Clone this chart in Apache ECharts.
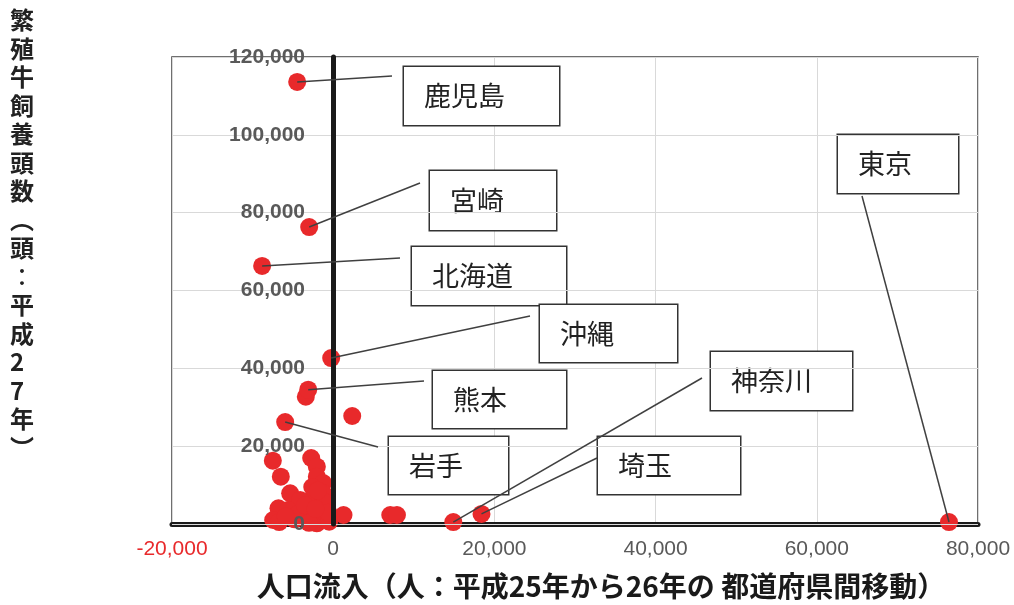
<!DOCTYPE html>
<html><head><meta charset="utf-8">
<script src="https://cdn.jsdelivr.net/npm/echarts@6/dist/echarts.min.js"></script>
<style>html,body{margin:0;padding:0;background:#fff}#c{width:1014px;height:605px}</style>
</head><body><div id="c"></div>
<script>
// ---- data ----
const labeledNames = ['鹿児島','宮崎','北海道','沖縄','熊本','岩手','神奈川','埼玉','東京'];
const labeledX = [-4470, -2980, -8820, -250, -3100, -5960, 14900, 18400, 76400];
const labeledY = [113600, 76300, 66300, 42650, 34500, 26200, 500, 2600, 500];

const otherX = [2360, -3400, -7490, -6500, -2730, -2030, -2030, -1240, -5340, -1240,
  -2480, -4100, -6790, -5590, -830, -7450, -3730, -2860, -1610, -620,
  -2030, 1280, 7080, 7910, -6700, -4800, -3200, -1500, -500, -1000,
  -2600, -4400, -3000, -600, -1900, -3500, -5900, -2200];
const otherY = [27750, 32700, 16260, 12150, 16960, 14720, 12150, 10530, 7890, 7890,
  6170, 6170, 4030, 3600, 4450, 1030, 1880, 1880, 1030, 1880,
  180, 2310, 2310, 2310, 500, 1200, 3000, 3500, 600, 5600,
  9500, 2500, 300, 2900, 8600, 4800, 1900, 3900];

const xAxisTitle = '人口流入（人：平成25年から26年の 都道府県間移動）';
const yAxisTitle = '繁殖牛飼養頭数︵頭︰平成27年︶';

// callout box layout in pixels: left, top, width, height, leader end x, leader end y
const calloutLayout = [
  [404, 67, 155, 58, 392, 76],
  [430, 171, 126, 59, 420, 183],
  [412, 247, 154, 58, 400, 258],
  [540, 305, 137, 57, 530, 316],
  [433, 371, 133, 57, 424, 381],
  [389, 437, 119, 57, 378, 447],
  [711, 352, 141, 58, 702, 378],
  [598, 437, 142, 57, 597, 458],
  [838, 135, 120, 58, 862, 196]
];

const RED = '#e8292b';
const GRAY = '#595959';

const chart = echarts.init(document.getElementById('c'));

const otherData = otherX.map((x, i) => [x, otherY[i]]);
const labeledData = labeledNames.map((n, i) => ({
  name: n,
  value: [labeledX[i], labeledY[i]],
  label: {
    width: calloutLayout[i][2] - 20,
    height: calloutLayout[i][3],
    lineHeight: calloutLayout[i][3]
  }
}));

const baseGraphic = [
  {
    type: 'text', left: 10, top: 6,
    style: {
      text: Array.from(yAxisTitle).join('\n'),
      font: 'bold 24px "Noto Sans CJK JP"', lineHeight: 28.5,
      fill: '#222', align: 'center'
    }
  },
  {
    type: 'text', x: 601, y: 586,
    style: {
      text: xAxisTitle, font: 'bold 28px "Noto Sans CJK JP"',
      fill: '#1a1a1a', align: 'center', verticalAlign: 'middle'
    }
  }
];

chart.setOption({
  animation: false,
  backgroundColor: '#fff',
  grid: { left: 172, top: 57, right: 36, bottom: 81, show: true, borderColor: '#404040', borderWidth: 1.5, backgroundColor: 'transparent' },
  xAxis: {
    type: 'value', min: -20000, max: 80000, interval: 20000,
    axisLine: { onZero: false, lineStyle: { color: '#1a1a1a', width: 5 } },
    axisTick: { show: false },
    splitLine: { lineStyle: { color: '#d9d9d9', width: 1 } },
    axisLabel: {
      margin: 15, fontSize: 21, fontFamily: 'Liberation Sans, sans-serif',
      color: function (v) { return v < 0 ? RED : GRAY; },
      formatter: function (v) { return Number(v).toLocaleString('en-US'); }
    }
  },
  yAxis: {
    type: 'value', min: 0, max: 120000, interval: 20000, z: 10,
    axisLine: { onZero: true, lineStyle: { color: '#1a1a1a', width: 5 } },
    axisTick: { show: false },
    splitLine: { lineStyle: { color: '#d9d9d9', width: 1 } },
    axisLabel: {
      margin: -133, fontSize: 21, fontWeight: 'bold', fontFamily: 'Liberation Sans, sans-serif', color: GRAY,
      align: 'right',
      formatter: function (v) { return Number(v).toLocaleString('en-US'); }
    }
  },
  series: [
    {
      type: 'scatter', data: otherData, symbolSize: 18,
      itemStyle: { color: RED, opacity: 1 }
    },
    {
      type: 'scatter', data: labeledData, symbolSize: 18,
      itemStyle: { color: RED, opacity: 1 },
      label: {
        show: true, formatter: '{b}',
        fontFamily: 'Noto Sans CJK JP', fontSize: 27, color: '#222',
        backgroundColor: '#fff', borderColor: '#333', borderWidth: 1.5,
        padding: [0, 0, 0, 20], verticalAlign: 'middle', align: 'left'
      },
      labelLayout: function (params) {
        const c = calloutLayout[params.dataIndex];
        return { x: c[0], y: c[1], align: 'left', verticalAlign: 'top' };
      }
    }
  ],
  graphic: baseGraphic
});

// leader lines: from each labeled point (through the chart's own scales) to its callout
const leaders = labeledNames.map((n, i) => {
  const p = chart.convertToPixel({ seriesIndex: 1 }, [labeledX[i], labeledY[i]]);
  const c = calloutLayout[i];
  return {
    type: 'line', z: 50,
    shape: { x1: p[0], y1: p[1], x2: c[4], y2: c[5] },
    style: { stroke: '#404040', lineWidth: 1.5 }
  };
});
chart.setOption({ graphic: baseGraphic.concat(leaders) });
</script></body></html>
